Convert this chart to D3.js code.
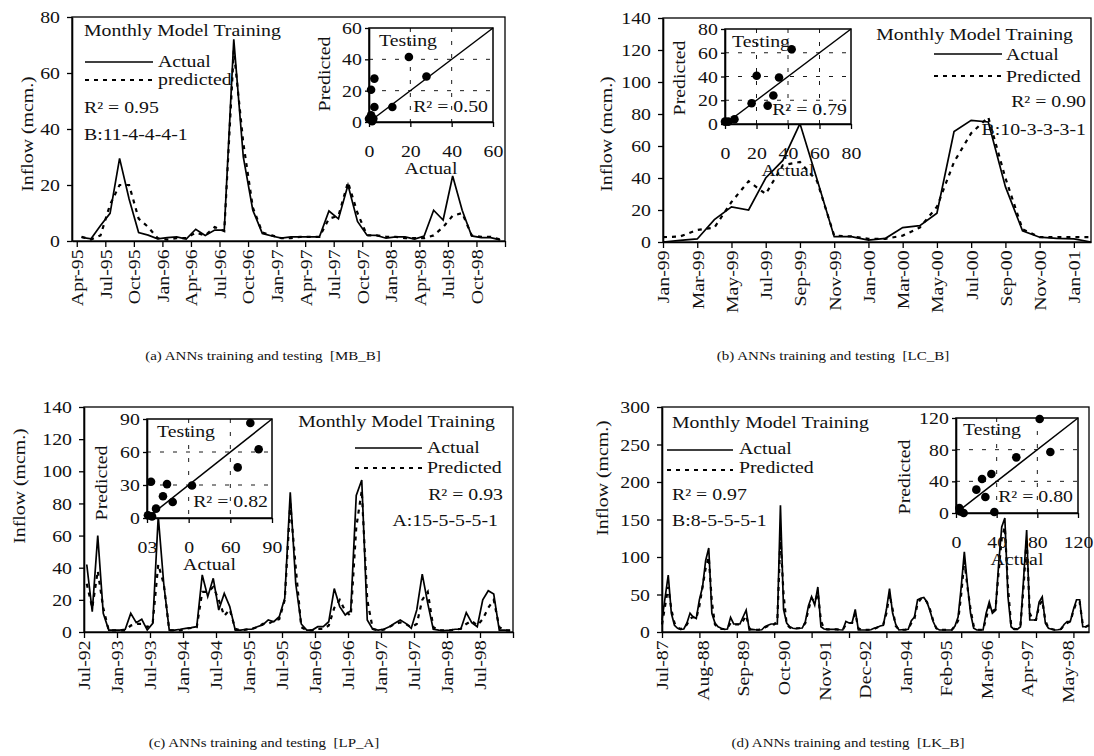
<!DOCTYPE html>
<meta charset="utf-8">
<style>
body { margin:0; background:#fff; }
svg { display:block; }
text { font-family: "Liberation Serif", "Times New Roman", serif; fill:#111; }
.domain { stroke:#000; stroke-width:1.6px; }
.tick line { stroke:#000; stroke-width:1.3px; }
.noline .domain { display:none; }
</style>
<body>
<script src="https://d3js.org/d3.v7.min.js"></script>
<script>

// ---- values (inflow, mcm.), one per month ----
// (a) MB_B, Apr-95 .. Dec-98
var aActual = [1.3, 0.8, 5.5, 9.9, 29.5, 15, 3, 2.1, 0.8, 1.2, 1.5, 0.7, 4.2, 2, 3.9, 3.9, 72, 30, 11, 2.7,
  1.8, 1, 1.5, 1.5, 1.5, 1.5, 10.7, 7.9, 20, 7, 2.1, 2, 1, 1.5, 1.5, 0.7, 1.8, 11, 7.5, 23.2, 11, 1.8, 1.2, 1.2, 0.4];
var aPredicted = [1.5, 0.5, 2, 13, 20, 20, 8, 5, 1, 0.5, 1, 1, 3, 2, 5, 3.5, 68, 35, 12, 3,
  2, 1, 1, 1.5, 1.5, 1.5, 8, 9, 21, 10, 2, 2, 1.5, 1.5, 1, 1, 1, 2, 5, 9, 10, 2, 1.5, 1.5, 0.5];
var aTestActual    = [19.3, 27.8, 2.6, 1, 2.6, 11.3, 0, 1, 2.1, 1.5];
var aTestPredicted = [41.5, 29, 27.7, 20.6, 9.6, 9.6, 2, 4.3, 2, 0.5];

// (b) LC_B, Jan-99 .. Feb-01
var bActual = [0, 1, 1.9, 14, 22, 20, 40, 51, 74, 39, 3.3, 3.3, 1.2, 2.3, 9, 10.2, 18, 69, 76, 75, 34.6, 7, 3, 2.3, 1.9, 0];
var bPredicted = [3, 3.5, 7.5, 9, 25, 38, 30, 48, 50, 38, 4, 3.5, 2, 2, 4, 9, 22, 50, 68, 78, 40, 8, 3, 3, 3, 3];
var bTestActual    = [42.3, 20.1, 34.3, 16.9, 30.7, 27.1, 0, 2, 6];
var bTestPredicted = [63, 40.6, 39.2, 17.5, 24, 15.5, 2, 2, 4];

// (c) LP_A, Jul-92 .. Dec-98
var cActual = [42, 12.7, 60, 11.6, 1.2, 1.2, 1.2, 1.7, 11.6, 5.8, 7.9, 1.2, 5.4, 72, 30, 1.2, 1.2, 1.7, 2.3, 2.7,
  3.3, 35.5, 22, 33.4, 13.7, 24, 15.8, 1.2, 1.2, 1.7, 1.7, 3.3, 4.4, 7.5, 6.4, 9.5, 21, 87, 30, 5,
  1.2, 1.2, 3.3, 3.3, 6.4, 27, 15.8, 10.6, 13.3, 85, 94.6, 7.5, 1.7, 1.2, 1.7, 3.3, 5.4, 7.5, 5.4, 2.3,
  13.7, 36, 17.8, 1.7, 1.2, 0.8, 1.2, 1.7, 1.7, 12, 5.8, 3.3, 20, 25.7, 23.6, 1.2, 1.2, 0.8];
var cPredicted = [30, 15, 38, 15, 1, 1, 1, 1, 4, 5, 5, 3, 6, 42, 30, 1, 1, 1, 2, 2.5,
  3, 25, 25, 28, 20, 10, 14, 2, 1, 1.5, 2, 3, 5, 5, 7, 8, 20, 80, 40, 3,
  1, 1, 2, 2, 4, 15, 20, 13, 10, 65, 88, 20, 2, 1, 1.5, 3, 5, 6, 5, 3,
  5, 20, 25, 3, 1, 1, 1, 1.5, 2, 5, 7, 4, 8, 15, 20, 3, 1, 1];
var cTestActual    = [74.4, 80.4, 65.3, 32.4, 14.4, 2.9, 11.5, 18.5, 6.5, 0.7, 3.6];
var cTestPredicted = [86.3, 62.5, 46, 29.6, 30.8, 33, 19.8, 14.6, 8.5, 2.4, 1.5];

// (d) LK_B, Jul-87 .. Dec-98
var dActual = [16, 46, 76, 25, 9, 5, 3.6, 4, 12, 25, 20, 18, 43, 60, 95, 112, 25, 12, 7, 5,
  3.6, 4, 19.5, 10.7, 10.7, 10.7, 20, 29, 2.7, 3.6, 3, 2.7, 3, 7, 9, 10.7, 10.7, 10.7, 169, 30,
  12, 7, 5, 4.4, 5, 5.3, 14, 35, 47, 36, 60, 7, 4, 3.6, 3.6, 3.6, 3.6, 3, 2.7, 14,
  12, 12.4, 30, 2.7, 2.7, 2.7, 2.7, 3, 5, 6, 8, 9, 30, 58, 25, 10, 2.7, 3, 3, 3.6,
  15, 20, 43, 45, 46, 40, 28, 14, 5, 2.7, 2.7, 2.7, 2.7, 2.7, 8, 20, 60, 107, 63, 25,
  5, 2.7, 2.7, 2.7, 25, 40, 25, 29, 90, 140, 152, 47, 7, 3.6, 3.6, 7, 70, 136, 16, 16,
  16, 40, 47, 11.6, 5, 3.6, 2.7, 3, 3.6, 10, 14, 14, 30, 43, 43, 7, 7, 9];
var dPredicted = [10, 35, 60, 30, 12, 6, 4, 5, 10, 18, 20, 18, 35, 60, 85, 100, 40, 10, 6, 4,
  4, 5, 12, 10, 10, 10, 15, 22, 5, 3, 3, 3, 4, 6, 8, 10, 10, 15, 127, 50,
  10, 6, 5, 5, 5, 6, 12, 30, 45, 40, 52, 15, 4, 3.6, 3.6, 3.6, 3.6, 3, 3, 10,
  12, 12, 25, 5, 3, 3, 3, 3, 4, 6, 8, 10, 25, 50, 30, 8, 3, 3, 3, 4,
  12, 18, 38, 44, 45, 40, 30, 15, 5, 3, 3, 3, 3, 3, 8, 15, 50, 95, 60, 30,
  8, 3, 3, 3, 18, 35, 28, 30, 80, 125, 140, 60, 10, 4, 4, 8, 60, 125, 25, 16,
  16, 35, 42, 15, 5, 4, 3, 3, 4, 9, 12, 14, 28, 40, 40, 10, 7, 9];
var dTestActual    = [82.3, 92.8, 59.3, 34.8, 25.6, 20, 28.9, 37.7, 3.3, 4.3, 7.5];
var dTestPredicted = [118.7, 77, 70.3, 49.3, 43, 29.5, 20.2, 1.3, 6.3, 2.1, 0];

// axis ticks and labels
var aYTicks = [0, 20, 40, 60, 80];
var bYTicks = [0, 20, 40, 60, 80, 100, 120, 140];
var cYTicks = [0, 20, 40, 60, 80, 100, 120, 140];
var dYTicks = [0, 50, 100, 150, 200, 250, 300];
var aInsetTicks = [0, 20, 40, 60],  aInsetLabels = ["0", "20", "40", "60"];
var bInsetTicks = [0, 20, 40, 60, 80], bInsetLabels = ["0", "20", "40", "60", "80"];
var cInsetTicks = [0, 30, 60, 90],  cInsetLabels = ["03", "0", "60", "90"];
var dInsetTicks = [0, 40, 80, 120], dInsetLabels = ["0", "40", "80", "120"];

var SX = 1.2, FS = 16.5;   // the scanned glyphs are wider than Times
var fmt = d3.timeFormat("%b-%y");
var parse = d3.timeParse("%Y-%m");

var svg = d3.select("body").append("svg").attr("width", 1094).attr("height", 756);

function T(g, s, x, y, o) {
  o = o || {};
  return g.append("text")
    .attr("transform", "translate(" + x + "," + y + ")" + (o.rot ? " rotate(-90)" : "") + " scale(" + SX + ",1)")
    .attr("text-anchor", o.anchor || "start")
    .style("font-size", (o.size || FS) + "px")
    .text(s);
}

var panels = [
  { start: "1995-04", actual: aActual, predicted: aPredicted, yTicks: aYTicks,
    testA: aTestActual, testP: aTestPredicted, iTicks: aInsetTicks, iLabels: aInsetLabels,
    box: {l: 72, t: 17, r: 505, b: 241}, xDom: [-1, 44.5],
    ticks: {from: -0.5, step: 3}, labels: {from: -0.5, step: 3},
    inset: {l: 369, t: 28, r: 493, b: 122},
    testing: [379, 46], predLbl: [330, 74], testR2: [488, 112, "R\u00b2 = 0.50"],
    yTitle: [33, 134],
    legend: {anchor: "start", title: [84, 36], line: [85, 153, 62], act: [158, 67], dash: [85, 153, 80], pred: [158, 85],
             predName: "predicted", r2: [84, 113, "R\u00b2 = 0.95"], net: [84, 140, "B:11-4-4-4-1"]},
    caption: [263, 360, "(a) ANNs training and testing\u00a0\u00a0[MB_B]"] },
  { start: "1999-01", actual: bActual, predicted: bPredicted, yTicks: bYTicks,
    testA: bTestActual, testP: bTestPredicted, iTicks: bInsetTicks, iLabels: bInsetLabels,
    box: {l: 663, t: 18, r: 1091, b: 242}, xDom: [0, 25],
    ticks: {from: 0, step: 2}, labels: {from: 0, step: 2},
    inset: {l: 725, t: 29, r: 851, b: 124},
    testing: [732, 47], predLbl: [685, 78], testR2: [847, 115, "R\u00b2 = 0.79"],
    yTitle: [612, 134],
    legend: {anchor: "end", title: [1073, 40], line: [934, 1002, 54], act: [1006, 60], dash: [934, 1002, 76], pred: [1006, 82],
             predName: "Predicted", r2: [1086, 107, "R\u00b2 = 0.90"], net: [1086, 135, "B:10-3-3-3-1"]},
    caption: [833, 360, "(b) ANNs training and testing\u00a0\u00a0[LC_B]"] },
  { start: "1992-07", actual: cActual, predicted: cPredicted, yTicks: cYTicks,
    testA: cTestActual, testP: cTestPredicted, iTicks: cInsetTicks, iLabels: cInsetLabels,
    box: {l: 84, t: 407, r: 513, b: 632}, xDom: [-0.5, 77.5],
    ticks: {from: -0.5, step: 6}, labels: {from: -0.5, step: 6},
    inset: {l: 147, t: 419, r: 272, b: 518},
    testing: [157, 437], predLbl: [107, 483], testR2: [268, 507, "R\u00b2 = 0.82"],
    yTitle: [25, 486],
    legend: {anchor: "end", title: [495, 427], line: [355, 422, 448], act: [427, 453], dash: [355, 422, 468], pred: [427, 473],
             predName: "Predicted", r2: [503, 500, "R\u00b2 = 0.93"], net: [498, 526, "A:15-5-5-5-1"]},
    caption: [264, 747, "(c) ANNs training and testing\u00a0\u00a0[LP_A]"] },
  { start: "1987-07", actual: dActual, predicted: dPredicted, yTicks: dYTicks,
    testA: dTestActual, testP: dTestPredicted, iTicks: dInsetTicks, iLabels: dInsetLabels,
    box: {l: 662, t: 407, r: 1089, b: 632}, xDom: [0, 137],
    ticks: {from: 0, step: 12}, labels: {from: 0, step: 13},
    inset: {l: 956, t: 418, r: 1078, b: 513},
    testing: [963, 435], predLbl: [910, 477], testR2: [1073, 502, "R\u00b2 = 0.80"],
    yTitle: [608, 478],
    legend: {anchor: "start", title: [672, 428], line: [667, 733, 450], act: [739, 454], dash: [667, 733, 470], pred: [739, 473],
             predName: "Predicted", r2: [672, 500, "R\u00b2 = 0.97"], net: [672, 526, "B:8-5-5-5-1"]},
    caption: [848, 747, "(d) ANNs training and testing\u00a0\u00a0[LK_B]"] }
];

panels.forEach(function(p) {
  var g = svg.append("g"), B = p.box, n = p.actual.length;
  var start = parse(p.start);
  var x = d3.scaleLinear().domain(p.xDom).range([B.l, B.r]);
  var y = d3.scaleLinear().domain([0, d3.max(p.yTicks)]).range([B.b, B.t]);

  g.append("rect").attr("x", B.l).attr("y", B.t).attr("width", B.r - B.l).attr("height", B.b - B.t)
    .attr("fill", "none").attr("stroke", "#000").attr("stroke-width", 1.3);

  var line = d3.line().x(function(d, i) { return x(i); }).y(function(d) { return y(d); });
  g.append("path").datum(p.predicted).attr("d", line).attr("fill", "none")
    .attr("stroke", "#000").attr("stroke-width", 2.2).attr("stroke-dasharray", "4,5");
  g.append("path").datum(p.actual).attr("d", line).attr("fill", "none")
    .attr("stroke", "#000").attr("stroke-width", 1.7).attr("stroke-linejoin", "miter");

  // y axis
  var ya = g.append("g").attr("transform", "translate(" + B.l + ",0)")
    .call(d3.axisLeft(y).tickValues(p.yTicks).tickSize(5).tickSizeOuter(0));
  ya.selectAll("text").attr("x", -10).attr("dy", "0.34em")
    .attr("transform", "scale(" + SX + ",1)").style("font-size", FS + "px");

  // x axis: tick marks and month labels
  var tickVals = d3.range(p.ticks.from, p.xDom[1] + 0.01, p.ticks.step);
  var labVals = d3.range(p.labels.from, p.xDom[1] + 0.01, p.labels.step).filter(function(v) {
    return Math.round(v - p.labels.from) < n;
  });
  g.append("g").attr("transform", "translate(0," + B.b + ")")
    .call(d3.axisBottom(x).tickValues(tickVals).tickSize(6).tickSizeOuter(0).tickFormat(""));
  var xl = g.append("g").attr("class", "noline").attr("transform", "translate(0," + B.b + ")")
    .call(d3.axisBottom(x).tickValues(labVals).tickSize(0).tickFormat(function(v) {
      return fmt(d3.timeMonth.offset(start, Math.round(v - p.labels.from)));
    }));
  xl.selectAll("text").attr("x", -7).attr("y", 0).attr("dy", "0.36em").attr("text-anchor", "end")
    .attr("transform", "rotate(-90) scale(" + SX + ",1)").style("font-size", FS + "px");

  T(g, "Inflow (mcm.)", p.yTitle[0], p.yTitle[1], {rot: true, anchor: "middle"});

  // legend block
  var L = p.legend;
  T(g, "Monthly Model Training", L.title[0], L.title[1], {anchor: L.anchor});
  g.append("line").attr("x1", L.line[0]).attr("x2", L.line[1]).attr("y1", L.line[2]).attr("y2", L.line[2])
    .attr("stroke", "#000").attr("stroke-width", 1.7);
  g.append("line").attr("x1", L.dash[0]).attr("x2", L.dash[1]).attr("y1", L.dash[2]).attr("y2", L.dash[2])
    .attr("stroke", "#000").attr("stroke-width", 2.2).attr("stroke-dasharray", "4,5");
  T(g, "Actual", L.act[0], L.act[1]);
  T(g, L.predName, L.pred[0], L.pred[1]);
  T(g, L.r2[2], L.r2[0], L.r2[1], {anchor: L.anchor});
  T(g, L.net[2], L.net[0], L.net[1], {anchor: L.anchor});

  // inset: testing scatter
  var I = p.inset, m = d3.max(p.iTicks);
  var xi = d3.scaleLinear().domain([0, m]).range([I.l, I.r]);
  var yi = d3.scaleLinear().domain([0, m]).range([I.b, I.t]);
  var ig = g.append("g");
  ig.append("rect").attr("x", I.l).attr("y", I.t).attr("width", I.r - I.l).attr("height", I.b - I.t)
    .attr("fill", "#fff").attr("stroke", "none");
  var inner = p.iTicks.slice(1, -1);
  ig.selectAll(".gh").data(inner).enter().append("line")
    .attr("x1", I.l).attr("x2", I.r).attr("y1", yi).attr("y2", yi)
    .attr("stroke", "#000").attr("stroke-width", 0.9).attr("stroke-dasharray", "4,9");
  ig.selectAll(".gv").data(inner).enter().append("line")
    .attr("y1", I.t).attr("y2", I.b).attr("x1", xi).attr("x2", xi)
    .attr("stroke", "#000").attr("stroke-width", 0.9).attr("stroke-dasharray", "4,9");
  ig.append("line").attr("x1", xi(0)).attr("y1", yi(0)).attr("x2", xi(m)).attr("y2", yi(m))
    .attr("stroke", "#000").attr("stroke-width", 1.5);
  ig.selectAll("circle").data(p.testA).enter().append("circle")
    .attr("cx", function(d) { return xi(d); })
    .attr("cy", function(d, i) { return yi(p.testP[i]); })
    .attr("r", 4.3).attr("fill", "#000");
  ig.append("rect").attr("x", I.l).attr("y", I.t).attr("width", I.r - I.l).attr("height", I.b - I.t)
    .attr("fill", "none").attr("stroke", "#000").attr("stroke-width", 1.5);
  var iy = ig.append("g").attr("transform", "translate(" + I.l + ",0)")
    .call(d3.axisLeft(yi).tickValues(p.iTicks).tickSize(4).tickSizeOuter(0));
  iy.selectAll("text").attr("x", -6).attr("dy", "0.34em")
    .attr("transform", "scale(" + SX + ",1)").style("font-size", FS + "px");
  var ix = ig.append("g").attr("transform", "translate(0," + I.b + ")")
    .call(d3.axisBottom(xi).tickValues(p.iTicks).tickSize(5).tickSizeOuter(0)
      .tickFormat(function(d, i) { return p.iLabels[i]; }));
  ix.selectAll("text").attr("y", 0).attr("dy", 0).attr("text-anchor", "middle")
    .attr("transform", "translate(0,35) scale(" + SX + ",1)").style("font-size", FS + "px");
  T(ig, "Actual", (I.l + I.r) / 2, I.b + 52, {anchor: "middle"});
  T(ig, "Testing", p.testing[0], p.testing[1]);
  T(ig, "Predicted", p.predLbl[0], p.predLbl[1], {rot: true, anchor: "middle"});
  T(ig, p.testR2[2], p.testR2[0], p.testR2[1], {anchor: "end"});

  T(g, p.caption[2], p.caption[0], p.caption[1], {anchor: "middle", size: 12.5});
});
</script>
</body>
